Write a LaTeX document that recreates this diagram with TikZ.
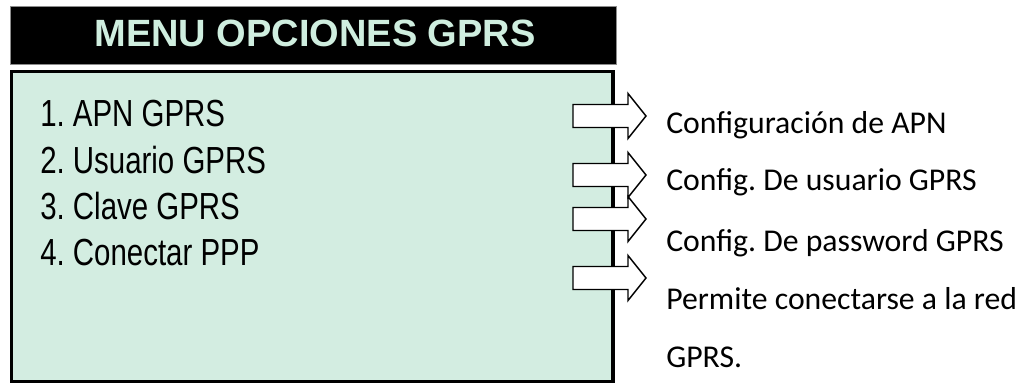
\documentclass[tikz,border=0pt]{standalone}
\usepackage{fontspec}
\setmainfont{Carlito}
\newfontfamily\arialf{Liberation Sans}
\definecolor{panelgreen}{HTML}{D3EDE1}
\definecolor{titlegreen}{HTML}{CFEEDF}
\frenchspacing
\begin{document}
\begin{tikzpicture}[x=0.75pt,y=-0.75pt,
  titlebar/.style={fill=black,draw=black!45,line width=0.75pt},
  panel/.style={fill=panelgreen,draw=black,line width=2.6pt},
  titletext/.style={font=\arialf\bfseries\fontsize{28.5}{30}\selectfont,text=titlegreen,anchor=base,inner sep=0pt},
  menuitem/.style={font=\arialf\fontsize{28.3}{30}\selectfont,anchor=base west,inner sep=0pt},
  desc/.style={font=\fontsize{23.8}{26}\selectfont,anchor=base west,inner sep=0pt},
  blockarrow/.style={fill=white,draw=black,line width=1.1pt,line join=miter}]
\useasboundingbox (0,0) rectangle (1025,385);
% title bar
\draw[titlebar] (10,7) rectangle (616,65);
\node[titletext] (title) at (315,47) {MENU OPCIONES GPRS};
% panel
\draw[panel] (11.5,71.5) rectangle (613,381.5);
\node[menuitem] (m1) at (40,127) {\scalebox{0.78}[1]{1. APN GPRS}};
\node[menuitem] (m2) at (40,173) {\scalebox{0.78}[1]{2. Usuario GPRS}};
\node[menuitem] (m3) at (40,219) {\scalebox{0.78}[1]{3. Clave GPRS}};
\node[menuitem] (m4) at (40,265) {\scalebox{0.78}[1]{4. Conectar PPP}};
% block arrows
\foreach \c in {116,175,219,278}{
  \draw[blockarrow] (573,\c-11.5) -- (628,\c-11.5) -- (628,\c-22.5) -- (646,\c)
    -- (628,\c+22.5) -- (628,\c+11.5) -- (573,\c+11.5) -- cycle;
}
% descriptions
\node[desc] (d1) at (666,133) {Configuración de APN};
\node[desc] (d2) at (666,190) {Config. De usuario GPRS};
\node[desc] (d3) at (666,251) {Config. De password GPRS};
\node[desc] (d4) at (666,309) {Permite conectarse a la red};
\node[desc] (d5) at (666,367) {GPRS.};
\end{tikzpicture}
\end{document}
